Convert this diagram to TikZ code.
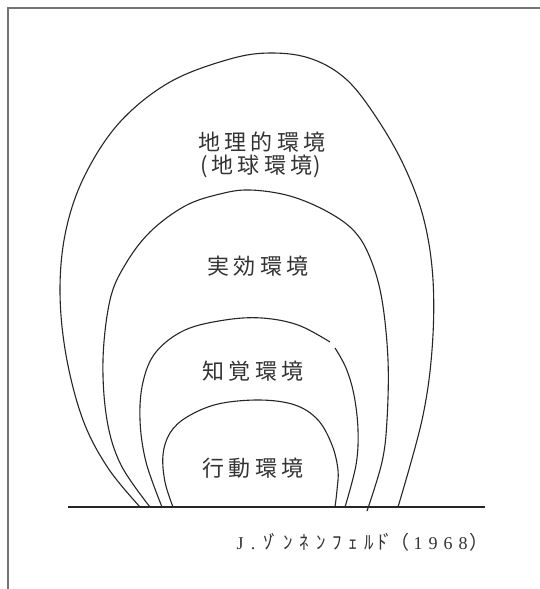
\documentclass[tikz,border=0pt]{standalone}
\usepackage{fontspec}
\newfontfamily\jp[LetterSpace=20]{Noto Sans CJK JP}
\newfontfamily\jpc{Noto Sans CJK JP}
\newfontfamily\citeserif{Liberation Serif}
\begin{document}
\begin{tikzpicture}[x=1pt,y=-1pt,
  curve/.style={draw=black!85,line width=1.1pt,smooth,tension=0.6},
  frameline/.style={draw=black!55,line width=1.2pt},
  label/.style={font=\jp\fontsize{22}{26}\selectfont,text=black!80,inner sep=0pt,align=center},
  cite/.style={font=\jpc\fontsize{19}{21}\selectfont,text=black!80,inner sep=0pt,anchor=base},
  citeb/.style={font=\citeserif\fontsize{18}{21}\selectfont,text=black!80,inner sep=0pt,anchor=base}]
\useasboundingbox (0,0) rectangle (540,589);
\fill[white] (0,0) rectangle (540,589);
% frame
\draw[frameline] (8,589) -- (8,8) -- (540,8);
% ground
\coordinate (g1) at (68,507);
\coordinate (g2) at (485,507);
\draw[draw=black!85,line width=1.1pt] (g1) -- (g2);
% outer curve
\draw[curve] plot coordinates {(140,507) (108,468) (83,420) (66,355) (60,290) (66,230) (85,175) (120,122) (170,82) (230,59) (272,53) (312,59) (347,80) (378,120) (405,168) (424,220) (433,280) (432,350) (422,420) (398,507)};
% second curve
\draw[curve] plot coordinates {(150,507) (121,465) (107,420) (103,360) (110,300) (125,265) (150,232) (185,206) (220,194) (250,190) (290,196) (328,212) (355,232) (371,260) (382,300) (388,360) (387,420) (382,462) (367,511)};
% third curve (with small gap)
\draw[curve] plot coordinates {(162,507) (146,462) (140,420) (143,382) (156,352) (185,330) (225,320) (262,318) (298,325) (330,342)};
\draw[curve] plot coordinates {(335,348) (346,368) (354,395) (358,430) (356,465) (345,507)};
% inner curve
\draw[curve] plot coordinates {(173,507) (165,482) (163,455) (170,433) (187,417) (218,404) (260,400) (295,405) (318,420) (332,445) (338,470) (337,490) (335,507)};
% labels
\node[label] (l1) at (262,142) {地理的環境};
\node[label] (l1b) at (261,166) {(\kern3pt 地球環境\kern1pt)};
\node[label] (l2) at (258,266) {実効環境};
\node[label] (l3) at (253,371) {知覚環境};
\node[label] (l4) at (253,468) {行動環境};
% citation
\foreach \x/\t [count=\i] in {240/J,253/.}
  \node[citeb] (c\i) at (\x,549) {\t};
\foreach \x/\t [count=\i from 3] in {{271/ｿ\kern-3ptﾞ},288/ﾝ,304/ﾈ,321/ﾝ,337/ﾌ,353/ｪ,369/ﾙ,{385/ﾄ\kern-3ptﾞ},400/（,479/）}
  \node[cite] (c\i) at (\x,549) {\t};
\foreach \x/\t [count=\i from 13] in {418/1,433/9,448/6,463/8}
  \node[citeb] (c\i) at (\x,549) {\t};
\end{tikzpicture}
\end{document}
